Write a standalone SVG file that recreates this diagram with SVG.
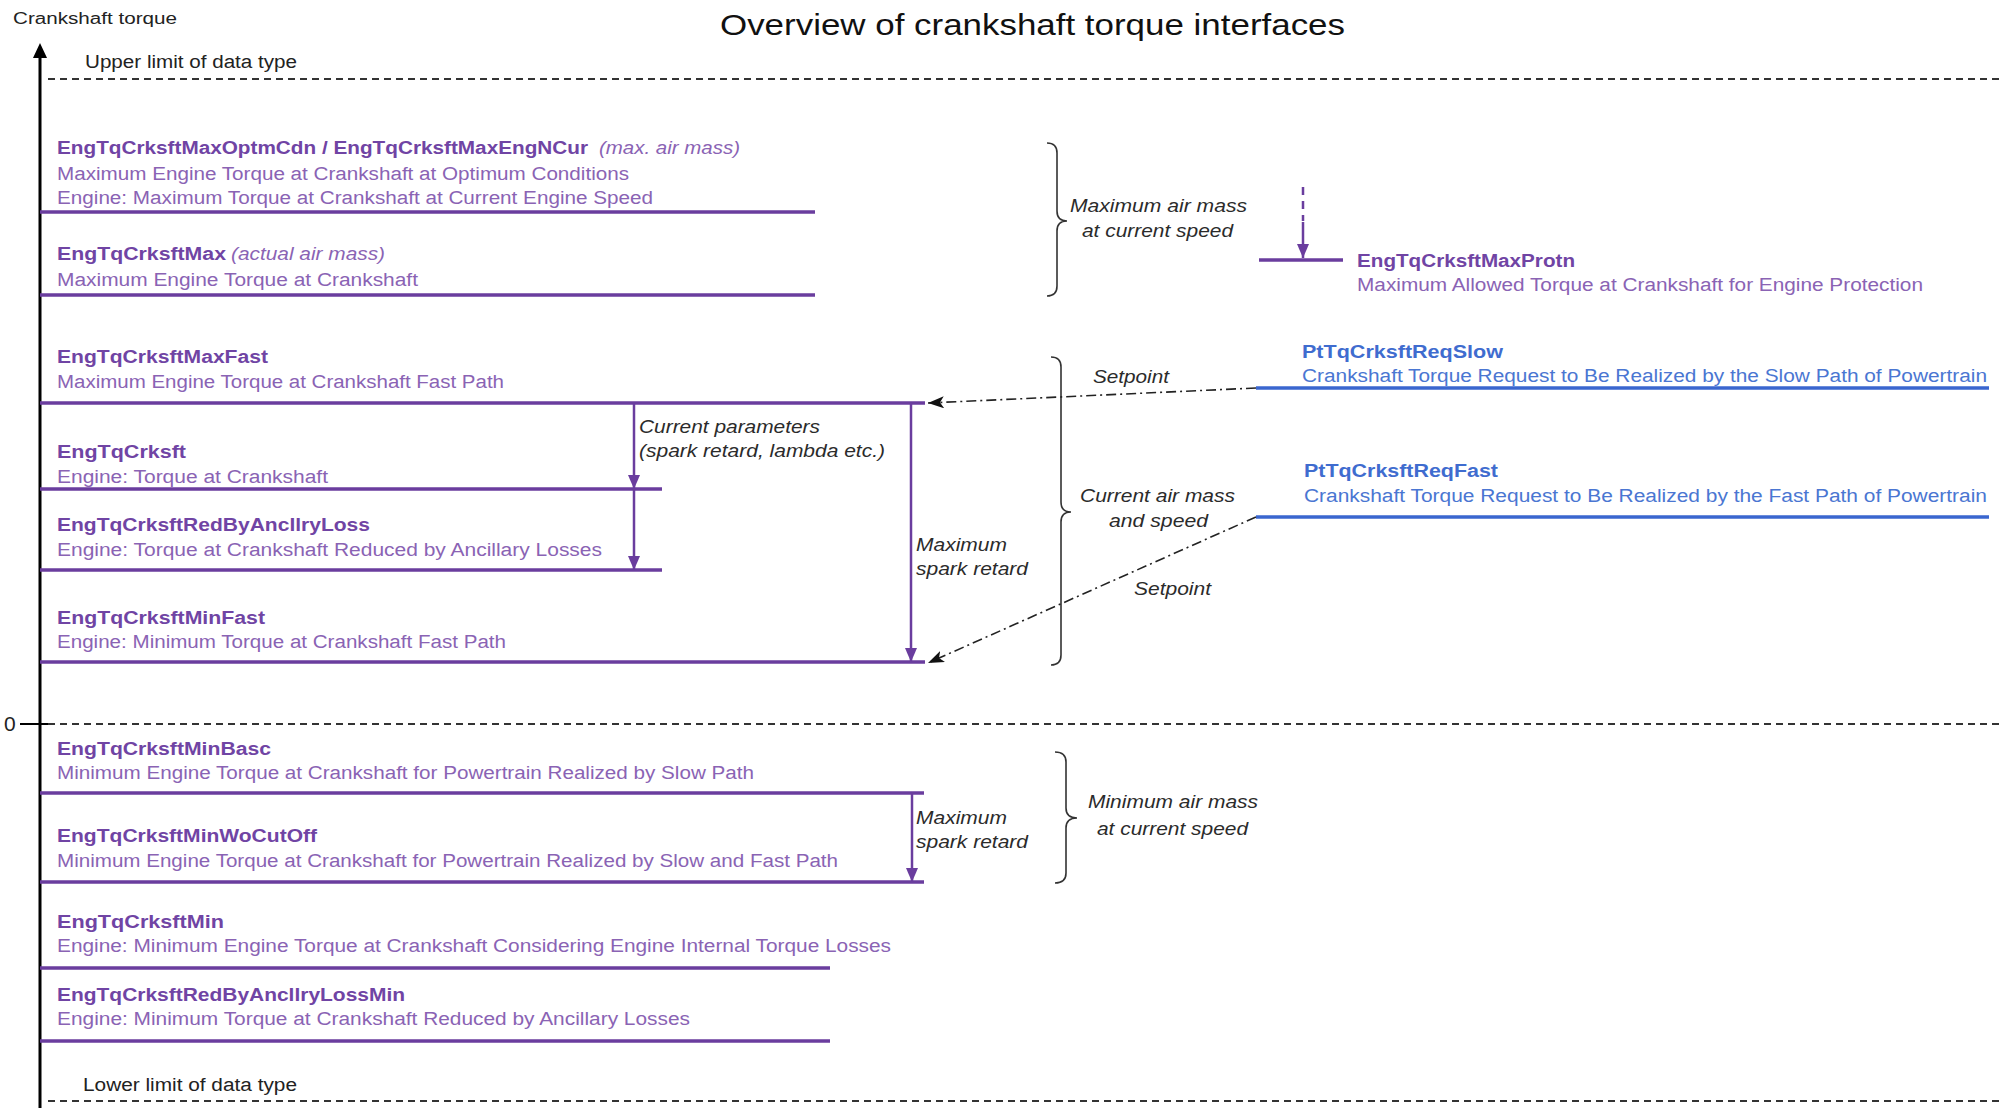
<svg xmlns="http://www.w3.org/2000/svg" width="2002" height="1108" viewBox="0 0 2002 1108">
<style>
text{font-family:"Liberation Sans",Arial,sans-serif}
.title{font-size:30px;fill:#111}
.ax{font-size:16px;fill:#222}
.lim{font-size:18px;fill:#222}
.name{font-size:18px;font-weight:bold;fill:#7044A4}
.desc{font-size:18px;fill:#8A63B4}
.bname{font-size:18px;font-weight:bold;fill:#3F6CCF}
.bdesc{font-size:18px;fill:#4A76D2}
.note{font-size:18px;font-style:italic;fill:#2b2b2b}
.inote{font-size:18px;font-style:italic;fill:#8A63B4}
.lvl{stroke:#6A3D9E;stroke-width:3.5}
.blvl{stroke:#3A66CF;stroke-width:3.5}
.dash{stroke:#333;stroke-width:1.8;stroke-dasharray:7 5}
.dd{stroke:#222;stroke-width:1.6;stroke-dasharray:10 4 2 4;fill:none}
.parr{stroke:#6A3D9E;stroke-width:2.5;fill:none}
.brace{stroke:#333;stroke-width:1.6;fill:none}
</style>
<defs>
<marker id="pa" viewBox="0 0 14 12" refX="14" refY="6" markerWidth="14" markerHeight="12" markerUnits="userSpaceOnUse" orient="auto">
<path d="M0,0 L14,6 L0,12 z" fill="#6A3D9E"/>
</marker>
<marker id="ka" viewBox="0 0 16 12" refX="16" refY="6" markerWidth="16" markerHeight="12" markerUnits="userSpaceOnUse" orient="auto">
<path d="M0,0 L16,6 L0,12 L4,6 z" fill="#111"/>
</marker>
</defs>
<rect width="2002" height="1108" fill="#fff"/>

<g id="axis">
<text class="ax" x="13" y="24" textLength="164" lengthAdjust="spacingAndGlyphs">Crankshaft torque</text>
<line x1="40" y1="55" x2="40" y2="1108" stroke="#000" stroke-width="3"/>
<polygon points="40,43 33,58 47,58" fill="#000"/>
<text class="lim" x="85" y="68" textLength="212" lengthAdjust="spacingAndGlyphs">Upper limit of data type</text>
<line class="dash" x1="48" y1="79" x2="2002" y2="79"/>
<text class="ax" x="4" y="731" style="font-size:21px">0</text>
<line x1="20" y1="724" x2="48" y2="724" stroke="#000" stroke-width="2"/>
<line class="dash" x1="48" y1="724" x2="2002" y2="724"/>
<text class="lim" x="83" y="1091" textLength="214" lengthAdjust="spacingAndGlyphs">Lower limit of data type</text>
<line class="dash" x1="48" y1="1101" x2="2002" y2="1101"/>
</g>

<g id="title">
<text class="title" x="720" y="35" textLength="625" lengthAdjust="spacingAndGlyphs">Overview of crankshaft torque interfaces</text>
</g>

<g id="n-maxoptm">
<text class="name" x="57" y="154" textLength="531" lengthAdjust="spacingAndGlyphs">EngTqCrksftMaxOptmCdn / EngTqCrksftMaxEngNCur</text>
<text class="inote" x="599" y="154" textLength="141" lengthAdjust="spacingAndGlyphs">(max. air mass)</text>
<text class="desc" x="57" y="180" textLength="572" lengthAdjust="spacingAndGlyphs">Maximum  Engine  Torque at Crankshaft at Optimum  Conditions</text>
<text class="desc" x="57" y="204" textLength="596" lengthAdjust="spacingAndGlyphs">Engine: Maximum  Torque at Crankshaft at Current Engine  Speed</text>
<line class="lvl" x1="40" y1="212" x2="815" y2="212"/>
</g>

<g id="n-max">
<text class="name" x="57" y="260" textLength="169" lengthAdjust="spacingAndGlyphs">EngTqCrksftMax</text>
<text class="inote" x="231" y="260" textLength="154" lengthAdjust="spacingAndGlyphs">(actual air mass)</text>
<text class="desc" x="57" y="286" textLength="361" lengthAdjust="spacingAndGlyphs">Maximum  Engine  Torque at Crankshaft</text>
<line class="lvl" x1="40" y1="295" x2="815" y2="295"/>
</g>

<g id="n-maxfast">
<text class="name" x="57" y="363" textLength="211" lengthAdjust="spacingAndGlyphs">EngTqCrksftMaxFast</text>
<text class="desc" x="57" y="388" textLength="447" lengthAdjust="spacingAndGlyphs">Maximum  Engine  Torque at Crankshaft Fast Path</text>
<line class="lvl" x1="40" y1="403" x2="925" y2="403"/>
</g>

<g id="n-crksft">
<text class="name" x="57" y="458" textLength="129" lengthAdjust="spacingAndGlyphs">EngTqCrksft</text>
<text class="desc" x="57" y="483" textLength="271" lengthAdjust="spacingAndGlyphs">Engine: Torque at Crankshaft</text>
<line class="lvl" x1="40" y1="489" x2="662" y2="489"/>
</g>

<g id="n-redby">
<text class="name" x="57" y="531" textLength="313" lengthAdjust="spacingAndGlyphs">EngTqCrksftRedByAncllryLoss</text>
<text class="desc" x="57" y="556" textLength="545" lengthAdjust="spacingAndGlyphs">Engine: Torque at Crankshaft Reduced by Ancillary Losses</text>
<line class="lvl" x1="40" y1="570" x2="662" y2="570"/>
</g>

<g id="n-minfast">
<text class="name" x="57" y="624" textLength="208" lengthAdjust="spacingAndGlyphs">EngTqCrksftMinFast</text>
<text class="desc" x="57" y="648" textLength="449" lengthAdjust="spacingAndGlyphs">Engine: Minimum  Torque at Crankshaft Fast Path</text>
<line class="lvl" x1="40" y1="662" x2="925" y2="662"/>
</g>

<g id="n-minbasc">
<text class="name" x="57" y="755" textLength="214" lengthAdjust="spacingAndGlyphs">EngTqCrksftMinBasc</text>
<text class="desc" x="57" y="779" textLength="697" lengthAdjust="spacingAndGlyphs">Minimum  Engine  Torque at Crankshaft for Powertrain Realized by Slow Path</text>
<line class="lvl" x1="40" y1="793" x2="924" y2="793"/>
</g>

<g id="n-minwocut">
<text class="name" x="57" y="842" textLength="260" lengthAdjust="spacingAndGlyphs">EngTqCrksftMinWoCutOff</text>
<text class="desc" x="57" y="867" textLength="781" lengthAdjust="spacingAndGlyphs">Minimum  Engine  Torque at Crankshaft for Powertrain Realized by Slow and Fast Path</text>
<line class="lvl" x1="40" y1="882" x2="924" y2="882"/>
</g>

<g id="n-min">
<text class="name" x="57" y="928" textLength="167" lengthAdjust="spacingAndGlyphs">EngTqCrksftMin</text>
<text class="desc" x="57" y="952" textLength="834" lengthAdjust="spacingAndGlyphs">Engine: Minimum  Engine  Torque at Crankshaft Considering Engine  Internal Torque Losses</text>
<line class="lvl" x1="40" y1="968" x2="830" y2="968"/>
</g>

<g id="n-redbymin">
<text class="name" x="57" y="1001" textLength="348" lengthAdjust="spacingAndGlyphs">EngTqCrksftRedByAncllryLossMin</text>
<text class="desc" x="57" y="1025" textLength="633" lengthAdjust="spacingAndGlyphs">Engine: Minimum  Torque at Crankshaft Reduced by Ancillary Losses</text>
<line class="lvl" x1="40" y1="1041" x2="830" y2="1041"/>
</g>

<g id="n-maxprotn">
<text class="name" x="1357" y="267" textLength="218" lengthAdjust="spacingAndGlyphs">EngTqCrksftMaxProtn</text>
<text class="desc" x="1357" y="291" textLength="566" lengthAdjust="spacingAndGlyphs">Maximum  Allowed Torque at Crankshaft for Engine Protection</text>
<line class="lvl" x1="1259" y1="260" x2="1343" y2="260"/>
</g>

<g id="n-reqslow">
<text class="bname" x="1302" y="358" textLength="201" lengthAdjust="spacingAndGlyphs">PtTqCrksftReqSlow</text>
<text class="bdesc" x="1302" y="382" textLength="685" lengthAdjust="spacingAndGlyphs">Crankshaft Torque Request to Be Realized  by the Slow Path of Powertrain</text>
<line class="blvl" x1="1256" y1="388" x2="1989" y2="388"/>
</g>

<g id="n-reqfast">
<text class="bname" x="1304" y="477" textLength="194" lengthAdjust="spacingAndGlyphs">PtTqCrksftReqFast</text>
<text class="bdesc" x="1304" y="502" textLength="683" lengthAdjust="spacingAndGlyphs">Crankshaft Torque Request to Be Realized  by the Fast Path  of Powertrain</text>
<line class="blvl" x1="1256" y1="517" x2="1989" y2="517"/>
</g>

<g id="annotations">
<path class="brace" d="M1047,143 Q1057,143 1057,153 L1057,211 Q1057,221 1067,221 Q1057,221 1057,231 L1057,286 Q1057,296 1047,296"/>
<text class="note" x="1070" y="212" textLength="177" lengthAdjust="spacingAndGlyphs">Maximum air mass</text>
<text class="note" x="1082" y="237" textLength="151" lengthAdjust="spacingAndGlyphs">at current speed</text>
<path class="brace" d="M1051,357 Q1061,357 1061,367 L1061,502 Q1061,512 1071,512 Q1061,512 1061,522 L1061,655 Q1061,665 1051,665"/>
<text class="note" x="1080" y="502" textLength="155" lengthAdjust="spacingAndGlyphs">Current air mass</text>
<text class="note" x="1109" y="527" textLength="99" lengthAdjust="spacingAndGlyphs">and speed</text>
<path class="brace" d="M1055,752 Q1066,752 1066,762 L1066,808 Q1066,818 1077,818 Q1066,818 1066,828 L1066,873 Q1066,883 1055,883"/>
<text class="note" x="1088" y="808" textLength="170" lengthAdjust="spacingAndGlyphs">Minimum air mass</text>
<text class="note" x="1097" y="835" textLength="151" lengthAdjust="spacingAndGlyphs">at current speed</text>
<text class="note" x="639" y="433" textLength="181" lengthAdjust="spacingAndGlyphs">Current parameters</text>
<text class="note" x="639" y="457" textLength="246" lengthAdjust="spacingAndGlyphs">(spark retard, lambda etc.)</text>
<text class="note" x="916" y="551" textLength="91" lengthAdjust="spacingAndGlyphs">Maximum</text>
<text class="note" x="916" y="575" textLength="112" lengthAdjust="spacingAndGlyphs">spark retard</text>
<text class="note" x="916" y="824" textLength="91" lengthAdjust="spacingAndGlyphs">Maximum</text>
<text class="note" x="916" y="848" textLength="112" lengthAdjust="spacingAndGlyphs">spark retard</text>
<text class="note" x="1093" y="383" textLength="76" lengthAdjust="spacingAndGlyphs">Setpoint</text>
<text class="note" x="1134" y="595" textLength="77" lengthAdjust="spacingAndGlyphs">Setpoint</text>
</g>

<g id="connectors">
<line class="parr" x1="634" y1="403" x2="634" y2="489" marker-end="url(#pa)"/>
<line class="parr" x1="634" y1="489" x2="634" y2="570" marker-end="url(#pa)"/>
<line class="parr" x1="911" y1="403" x2="911" y2="662" marker-end="url(#pa)"/>
<line class="parr" x1="912" y1="793" x2="912" y2="882" marker-end="url(#pa)"/>
<line x1="1303" y1="187" x2="1303" y2="221" stroke="#6A3D9E" stroke-width="2.5" stroke-dasharray="8 6"/>
<line class="parr" x1="1303" y1="222" x2="1303" y2="258" marker-end="url(#pa)"/>
<path class="dd" d="M1256,388 L928,403" marker-end="url(#ka)"/>
<path class="dd" d="M1256,517 L928,663" marker-end="url(#ka)"/>
</g>
</svg>
